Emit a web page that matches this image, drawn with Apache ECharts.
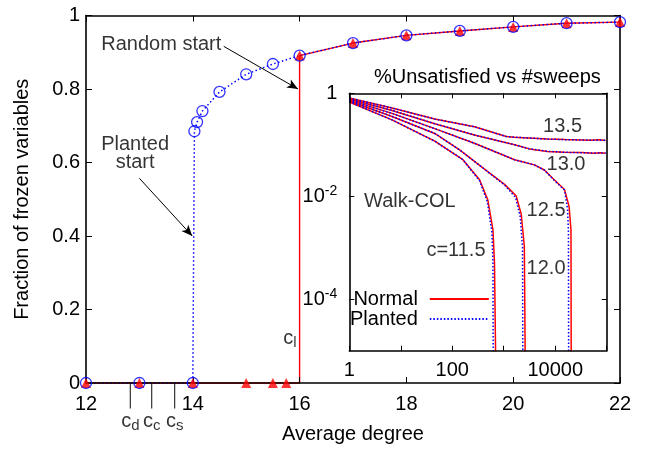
<!DOCTYPE html>
<html><head><meta charset="utf-8">
<script src="https://cdn.jsdelivr.net/npm/echarts@6/dist/echarts.min.js"></script>
<style>html,body{margin:0;padding:0;background:#fff}#c{width:646px;height:449px}</style>
</head><body><div id="c"></div>
<script>
const FONT = 'Liberation Sans, Arial, Helvetica, sans-serif';

// ---------- main plot data ----------
const plantedDeg  = [12, 13, 14, 14.03, 14.08, 14.18, 14.5, 15, 15.5, 16, 17, 18, 19, 20, 21, 22];
const plantedFrac = [0, 0, 0, 0.685, 0.71, 0.74, 0.792, 0.84, 0.868, 0.891, 0.925, 0.946, 0.958, 0.969, 0.979, 0.982];
const normalDeg   = [12, 13, 14, 15, 15.5, 15.75, 16, 17, 18, 19, 20, 21, 22];
const normalFrac  = [0, 0, 0, 0, 0, 0, 0.891, 0.925, 0.946, 0.958, 0.969, 0.979, 0.982];
const normalJump  = 16;          // c_l : the red curve jumps here
const thresholdDeg   = [12.83, 13.23, 13.66];
const thresholdNames = ['d', 'c', 's'];

// ---------- inset data (sweeps, fraction unsatisfied) ----------
const normal115 = [[1,0.678],[6.76,0.304],[45.7,0.1175],[161,0.0513],[339,0.0209],[490,0.0085],[617,0.00224],[661,0.00051],[692,1.23e-5],[695,1e-7]];
const planted115 = [[1,0.678],[6.76,0.304],[45.7,0.1175],[161,0.0513],[339,0.020],[479,0.0079],[589,0.002],[617,0.0005],[624,1.23e-5],[627,1e-7]];
const normal120 = [[1,0.71],[6.76,0.355],[45.7,0.166],[139,0.0794],[393,0.0355],[1035,0.017],[1738,0.0102],[2188,0.00447],[2512,0.00107],[2600,1.23e-5],[2610,1e-7]];
const planted120 = [[1,0.71],[6.76,0.355],[45.7,0.166],[139,0.0794],[393,0.0355],[1035,0.0166],[1698,0.0095],[2089,0.004],[2317,0.001],[2344,1.23e-5],[2350,1e-7]];
const normal125 = [[1,0.741],[6.76,0.407],[45.7,0.206],[269,0.107],[1622,0.0513],[3936,0.0407],[6166,0.0324],[9550,0.0209],[15140,0.0135],[18620,0.0063],[20230,0.00224],[20420,1.23e-5],[20510,1e-7]];
const planted125 = [[1,0.741],[6.76,0.407],[45.7,0.206],[269,0.107],[1622,0.0513],[3936,0.0405],[6166,0.0322],[9550,0.0205],[15140,0.0132],[17380,0.0056],[18070,0.002],[18200,1.23e-5],[18250,1e-7]];
const normal130 = [[1,0.776],[6.76,0.4645],[45.7,0.257],[269,0.155],[1622,0.1],[3162,0.0832],[7079,0.0741],[15140,0.0713],[32360,0.0708],[57150,0.0681],[75000,0.0702],[95500,0.0687]];
const planted130 = [[1,0.776],[6.76,0.4645],[45.7,0.257],[269,0.155],[1622,0.1],[3162,0.0835],[7079,0.0745],[15140,0.0716],[32360,0.0700],[57150,0.0690],[75000,0.0695],[95500,0.0690]];
const normal135 = [[1,0.811],[6.76,0.519],[45.7,0.316],[269,0.224],[1122,0.1445],[1622,0.14],[7079,0.129],[15850,0.126],[32360,0.1245],[50000,0.122],[70800,0.125],[95500,0.121]];
const planted135 = [[1,0.811],[6.76,0.519],[45.7,0.316],[269,0.224],[1122,0.1445],[1622,0.14],[7079,0.1295],[15850,0.1255],[32360,0.124],[50000,0.1235],[70800,0.1225],[95500,0.1225]];

const insetXTicks = [1, 100, 10000];
const insetYTicks = [1, 1e-2, 1e-4];

// ---------- build ----------
const RED = '#ff0000', BLUE = '#0000ff';
const txt = {color:'#000', fontFamily: FONT, fontSize: 20};

const normalLine = [];
normalDeg.forEach((d, i) => {
  if (d === normalJump) normalLine.push([normalJump, 0]);
  normalLine.push([d, normalFrac[i]]);
});
const plantedPts = plantedDeg.map((d,i)=>[d, plantedFrac[i]]);
const normalPts = normalDeg.map((d,i)=>[d, normalFrac[i]]);

const axisBase = (extra) => Object.assign({
  z: 4,
  axisLine: {show: true, onZero: false, lineStyle: {color: '#000', width: 1.6}},
  axisTick: {show: true, inside: true, length: 6, lineStyle: {color: '#000', width: 1}},
  splitLine: {show: false},
  axisLabel: Object.assign({}, txt),
}, extra);

function supLabel(v) {
  if (Math.abs(v - 1) < 1e-9) return '1';
  const e = Math.round(Math.log10(v));
  return '10{sup|' + e + '}';
}

const insetCurves = [
  [normal115, planted115], [normal120, planted120], [normal125, planted125],
  [normal130, planted130], [normal135, planted135]
];
const insetSeries = [];
insetCurves.forEach(([n, p]) => {
  insetSeries.push({type:'line', name:'Normal', xAxisIndex:2, yAxisIndex:2, data:n, showSymbol:false, symbol:'none',
    lineStyle:{color:RED, width:1.5}, itemStyle:{color:RED}, z:5, silent:true});
});
insetCurves.forEach(([n, p]) => {
  insetSeries.push({type:'line', name:'Planted', xAxisIndex:2, yAxisIndex:2, data:p, showSymbol:false, symbol:'none',
    lineStyle:{color:BLUE, width:1.5, type:[1.5,2]}, itemStyle:{color:BLUE}, z:6, silent:true});
});

const insetText = [
  {t:'13.5', x:13900, y:0.225},
  {t:'13.0', x:16200, y:0.0408},
  {t:'12.5', x:6640, y:0.0052},
  {t:'12.0', x:6640, y:0.00039},
  {t:'c=11.5', x:118, y:0.00089},
  {t:'Walk-COL', x:15, y:0.0079}
];

const option = {
  animation: false,
  backgroundColor: '#fff',
  textStyle: {fontFamily: FONT},
  title: {text: '%Unsatisfied vs #sweeps', left: 374, top: 67, padding: 0,
    textStyle: {color:'#000', fontFamily: FONT, fontSize: 20, fontWeight: 'normal'}},
  legend: {
    data: ['Normal', 'Planted'], orient: 'vertical', align: 'right', left: 350, top: 289,
    itemWidth: 59, itemHeight: 1, itemGap: 0, selectedMode: false, padding: 0,
    itemStyle: {opacity: 0},
    textStyle: {color:'#000', fontFamily: FONT, fontSize: 20, lineHeight: 20, padding:[0,7,0,0]}
  },
  grid: [
    {left: 86, top: 15.5, width: 534, height: 371.5, containLabel: false},
    {left: 349.3, top: 93.3, width: 257.4, height: 257.4, show: true, backgroundColor: '#fff', borderWidth: 0, containLabel: false}
  ],
  xAxis: [
    axisBase({gridIndex:0, type:'value', min:12, max:22, interval:2, position:'bottom',
      axisLabel: Object.assign({}, txt, {margin: 11}),
      name:'Average degree', nameLocation:'middle', nameGap:41, nameTextStyle: Object.assign({}, txt)}),
    axisBase({gridIndex:0, type:'value', min:12, max:22, interval:2, position:'top', axisLabel:{show:false}}),
    axisBase({gridIndex:1, type:'log', logBase:10, min:1, max:100000, position:'bottom', z: 7,
      axisTick:{show:true, inside:true, length:5, lineStyle:{color:'#000', width:1}},
      axisLabel: Object.assign({}, txt, {margin: 10, customValues: insetXTicks, formatter: v => String(Math.round(v))})}),
    axisBase({gridIndex:1, type:'log', logBase:10, min:1, max:100000, position:'top', z: 7,
      axisTick:{show:true, inside:true, length:5, lineStyle:{color:'#000', width:1}}, axisLabel:{show:false}})
  ],
  yAxis: [
    axisBase({gridIndex:0, type:'value', min:0, max:1, interval:0.2, position:'left',
      axisLabel: Object.assign({}, txt, {margin: 6}),
      name:'Fraction of frozen variables', nameLocation:'middle', nameGap:54, nameRotate:90,
      nameTextStyle: Object.assign({}, txt)}),
    axisBase({gridIndex:0, type:'value', min:0, max:1, interval:0.2, position:'right', axisLabel:{show:false}}),
    axisBase({gridIndex:1, type:'log', logBase:10, min:1e-5, max:1, position:'left', z: 7,
      axisTick:{show:true, inside:true, length:5, customValues: insetYTicks, lineStyle:{color:'#000', width:1}},
      axisLabel: Object.assign({}, txt, {margin: 12, customValues: insetYTicks, formatter: supLabel,
        rich: {sup: {fontSize: 14, fontFamily: FONT, color:'#000', padding:[0,0,10,0]}}})}),
    axisBase({gridIndex:1, type:'log', logBase:10, min:1e-5, max:1, position:'right', z: 7,
      axisTick:{show:true, inside:true, length:5, customValues: insetYTicks, lineStyle:{color:'#000', width:1}},
      axisLabel:{show:false}})
  ],
  series: [
    {type:'line', xAxisIndex:0, yAxisIndex:0, data: normalLine, showSymbol:false, symbol:'none', clip:false,
      lineStyle:{color:RED, width:1.4}, z:2, silent:true,
      markLine: {silent:true, symbol:['none','arrow'], symbolSize:[7,11], label:{show:false},
        lineStyle:{color:'#000', width:1, type:'solid'},
        data: [
          [{coord:[14.58, 0.916]}, {coord:[15.97, 0.8]}],
          [{coord:[13.0, 0.557]}, {coord:[13.99, 0.4]}]
        ]}},
    {type:'line', xAxisIndex:0, yAxisIndex:0, data: plantedPts, showSymbol:false, symbol:'none', clip:false,
      lineStyle:{color:BLUE, width:1.5, type:[1.5,2.5]}, z:3, silent:true},
    {type:'scatter', xAxisIndex:0, yAxisIndex:0, data: normalPts,
      symbol:'triangle', symbolSize:10, itemStyle:{color:RED}, clip:false, z:5, silent:true},
    {type:'scatter', xAxisIndex:0, yAxisIndex:0, data: plantedPts,
      symbol:'circle', symbolSize:11, clip:false,
      itemStyle:{color:'rgba(0,0,0,0)', borderColor:BLUE, borderWidth:1.3}, z:6, silent:true},
    // threshold marks c_d, c_c, c_s below the axis
    {type:'scatter', xAxisIndex:0, yAxisIndex:0, data: thresholdDeg.map((d,i)=>({value:[d,0], name:thresholdNames[i]})),
      symbol:'rect', symbolSize:[1.2,25], symbolOffset:[0,13], itemStyle:{color:'#000'}, clip:false, silent:true, z:2,
      label:{show:true, position:'bottom', distance:1, formatter: p => 'c{s|' + p.name + '}',
        color:'#000', fontFamily: FONT, fontSize: 20,
        rich:{s:{fontSize:15, fontFamily: FONT, color:'#000', padding:[9,0,0,0]}}}},
    // c_l label
    {type:'scatter', xAxisIndex:0, yAxisIndex:0, data:[[normalJump, 0.122]], symbolSize:0, clip:false, silent:true,
      label:{show:true, position:'left', distance:3, formatter:'c{s|l}', color:'#000', fontFamily: FONT, fontSize: 20,
        rich:{s:{fontSize:15, fontFamily: FONT, color:'#000', padding:[9,0,0,0]}}}},
    // annotations
    {type:'scatter', xAxisIndex:0, yAxisIndex:0, symbolSize:0, clip:false, silent:true,
      data:[{value:[13.41, 0.9206], name:'Random start'}, {value:[12.92, 0.6237], name:'Planted\nstart'}],
      label:{show:true, position:'inside', formatter: p => p.name, color:'#000', fontFamily: FONT, fontSize: 20, lineHeight: 18, align:'center'}},
    // inset text
    {type:'scatter', xAxisIndex:2, yAxisIndex:2, symbolSize:0, clip:false, silent:true, z:8,
      data: insetText.map(o => ({value:[o.x, o.y], name:o.t})),
      label:{show:true, position:'inside', formatter: p => p.name, color:'#000', fontFamily: FONT, fontSize: 20}}
  ].concat(insetSeries)
};

const chart = echarts.init(document.getElementById('c'), null, {renderer:'canvas'});
chart.setOption(option);
</script>
</body></html>
